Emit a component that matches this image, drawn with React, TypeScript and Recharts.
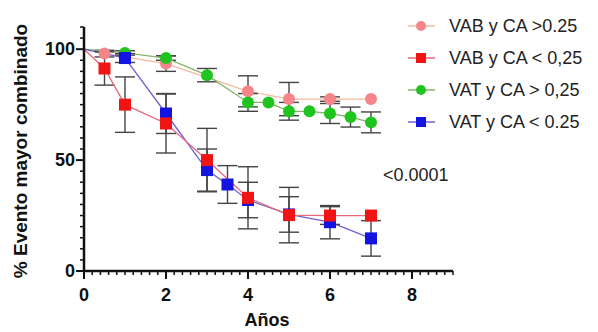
import React from 'react';
import { LineChart, Line, XAxis, YAxis, ErrorBar } from 'recharts';

// años de seguimiento y % libre de evento, por grupo
const vabAltoX = [0, 0.5, 2, 4, 5, 6, 7];
const vabAltoY = [100, 98, 93.5, 81, 77.5, 77.5, 77.5];
const vabAltoErr = [0, 1.5, 3.5, 7, 7.5, 1, 0];

const vabBajoX = [0, 0.5, 1, 2, 3, 4, 5, 6, 7];
const vabBajoY = [100, 91.3, 75, 66.5, 50, 33, 25.2, 25, 25];
const vabBajoErr = [0, 7.5, 12.5, 13.3, 14.3, 14, 12.5, 4, 0];

const vatAltoX = [0, 1, 2, 3, 4, 4.5, 5, 5.5, 6, 6.5, 7];
const vatAltoY = [100, 98.3, 96, 88.3, 76, 76, 72, 72, 71, 69.4, 67];
const vatAltoErr = [0, 1, 1, 3, 4, 0, 4, 0, 4.5, 4.5, 4.7];

const vatBajoX = [0, 1, 2, 3, 3.5, 4, 5, 6, 7];
const vatBajoY = [100, 96, 71, 45.5, 39, 32, 25.5, 22, 14.7];
const vatBajoErr = [0, 2, 9, 9.5, 8.5, 8, 8, 7.5, 8];

const legendLabels = ['VAB y CA >0.25', 'VAB y CA < 0,25', 'VAT y CA > 0,25', 'VAT y CA < 0.25'];
const xMajor = [0, 2, 4, 6, 8];
const yMajor = [0, 50, 100];
const xTicks = Array.from({ length: 46 }, (_, i) => Math.round(i * 2) / 10);
const yTicks = Array.from({ length: 23 }, (_, i) => i * 5);
const pValue = '<0.0001';

const zip = (xs: number[], ys: number[], es: number[]) =>
  xs.map((x, i) => ({ x, y: ys[i], e: es[i] }));

const FONT = '"Liberation Sans", Arial, sans-serif';

const isMajor = (v: number, list: number[]) => list.some((m) => Math.abs(m - v) < 1e-6);

const XTick = (props: any) => {
  const { x, y, payload } = props;
  const major = isMajor(payload.value, xMajor);
  return (
    <g>
      <line x1={x} y1={y} x2={x} y2={y + (major ? 8 : 4)} stroke="#111" strokeWidth={major ? 2 : 1.5} />
      {major && (
        <text x={x} y={y + 30} textAnchor="middle" fontFamily={FONT} fontWeight="bold" fontSize={18} fill="#111">
          {payload.value}
        </text>
      )}
    </g>
  );
};

const YTick = (props: any) => {
  const { x, y, payload } = props;
  const major = isMajor(payload.value, yMajor);
  return (
    <g>
      <line x1={x} y1={y} x2={x - (major ? 8 : 4)} y2={y} stroke="#111" strokeWidth={major ? 2 : 1.5} />
      {major && (
        <text x={x - 9} y={y + 6} textAnchor="end" fontFamily={FONT} fontWeight="bold" fontSize={18} fill="#111">
          {payload.value}
        </text>
      )}
    </g>
  );
};

// the starting point (año 0) is drawn without a marker
const makeDot = (color: string, shape: string) => (p: any) => {
  const { cx, cy, index } = p;
  if (index === 0) return <g key={index} />;
  if (shape === 'circle') return <circle key={index} cx={cx} cy={cy} r={6} fill={color} />;
  return <rect key={index} x={cx - 6} y={cy - 6} width={12} height={12} fill={color} />;
};

const series = [
  { name: legendLabels[0], data: zip(vabAltoX, vabAltoY, vabAltoErr), line: '#f2bb9c', mark: '#f4868a', shape: 'circle' },
  { name: legendLabels[2], data: zip(vatAltoX, vatAltoY, vatAltoErr), line: '#86b46a', mark: '#1fc41f', shape: 'circle' },
  { name: legendLabels[3], data: zip(vatBajoX, vatBajoY, vatBajoErr), line: '#7060d0', mark: '#1414e0', shape: 'square' },
  { name: legendLabels[1], data: zip(vabBajoX, vabBajoY, vabBajoErr), line: '#e86878', mark: '#f01414', shape: 'square' },
];

const legendItems = [
  { label: legendLabels[0], color: '#f4868a', line: '#f2bb9c', shape: 'circle' },
  { label: legendLabels[1], color: '#f01414', line: '#e86878', shape: 'square' },
  { label: legendLabels[2], color: '#1fc41f', line: '#86b46a', shape: 'circle' },
  { label: legendLabels[3], color: '#1414e0', line: '#7060d0', shape: 'square' },
];

export default function App() {
  return (
    <div style={{ position: 'absolute', left: 0, top: 0, width: 598, height: 332, background: '#fff' }}>
      <LineChart width={598} height={332} margin={{ top: 27, right: 145, bottom: 31, left: 0 }}>
        <XAxis
          dataKey="x"
          type="number"
          domain={[0, 9]}
          ticks={xTicks}
          interval={0}
          tick={<XTick />}
          tickLine={false}
          tickSize={0}
          tickMargin={0}
          height={30}
          axisLine={{ stroke: '#111', strokeWidth: 2.5 }}
          allowDuplicatedCategory={false}
        />
        <YAxis
          type="number"
          domain={[0, 110]}
          ticks={yTicks}
          interval={0}
          tick={<YTick />}
          tickLine={false}
          tickSize={0}
          tickMargin={0}
          width={84}
          axisLine={{ stroke: '#111', strokeWidth: 2.5 }}
        />
        {series.map((s) => (
          <Line
            key={s.name}
            data={s.data}
            dataKey="y"
            name={s.name}
            type="linear"
            stroke={s.line}
            strokeWidth={1.3}
            isAnimationActive={false}
            dot={makeDot(s.mark, s.shape)}
            activeDot={false}
          >
            <ErrorBar dataKey="e" direction="y" width={10} stroke="#444" strokeWidth={1.4} />
          </Line>
        ))}
      </LineChart>
      <svg width={598} height={332} style={{ position: 'absolute', left: 0, top: 0, pointerEvents: 'none' }}>
        <text
          transform="translate(27,151) rotate(-90)"
          textAnchor="middle"
          fontFamily={FONT}
          fontWeight="bold"
          fontSize={19}
          fill="#111"
        >
          % Evento mayor combinado
        </text>
        <text x={267} y={326} textAnchor="middle" fontFamily={FONT} fontWeight="bold" fontSize={18} fill="#111">
          Años
        </text>
        <text x={383} y={181} fontFamily={FONT} fontSize={18} fill="#222">
          {pValue}
        </text>
        {legendItems.map((it, i) => {
          const cy = 26 + i * 32;
          return (
            <g key={it.label}>
              <line x1={408} y1={cy} x2={435} y2={cy} stroke={it.line} strokeWidth={1.5} />
              {it.shape === 'circle' ? (
                <circle cx={421} cy={cy} r={5} fill={it.color} />
              ) : (
                <rect x={416} y={cy - 5} width={10} height={10} fill={it.color} />
              )}
              <text x={449} y={cy + 6} fontFamily={FONT} fontSize={18} fill="#222">
                {it.label}
              </text>
            </g>
          );
        })}
      </svg>
    </div>
  );
}
